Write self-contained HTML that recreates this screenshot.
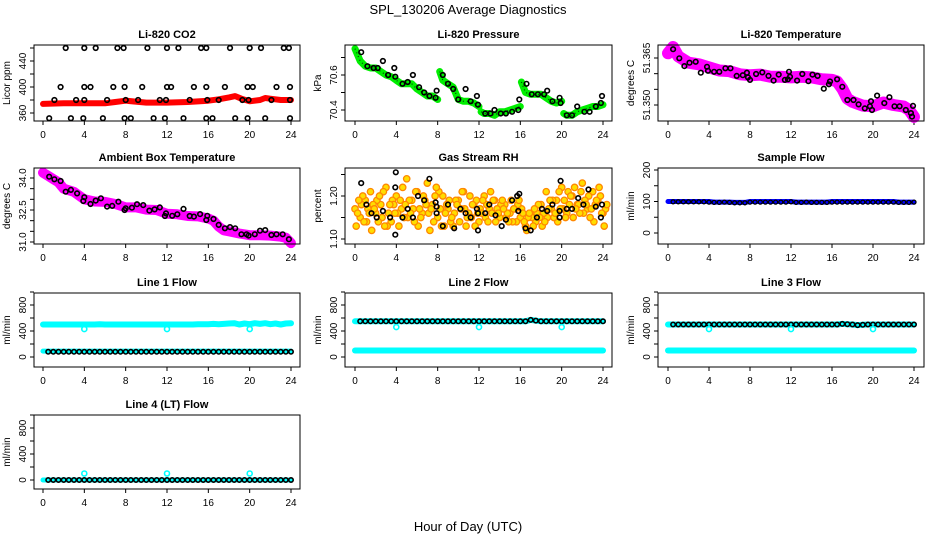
<!DOCTYPE html>
<html><head><meta charset="utf-8"><style>
html,body{margin:0;padding:0;background:#fff;}
svg{display:block;font-family:"Liberation Sans",Arial,sans-serif;}
</style></head><body>
<svg id="c" width="936" height="540" viewBox="0 0 936 540">
<rect width="936" height="540" fill="#fff"/>
<text x="468" y="14" text-anchor="middle" font-size="13">SPL_130206  Average Diagnostics</text>
<text x="468" y="531" text-anchor="middle" font-size="13">Hour of Day (UTC)</text>
</svg>
<script>
// ---------- data ----------
const xTicks=[0,4,8,12,16,20,24];
const H49=[0,0.5,1,1.5,2,2.5,3,3.5,4,4.5,5,5.5,6,6.5,7,7.5,8,8.5,9,9.5,10,10.5,11,11.5,12,12.5,13,13.5,14,14.5,15,15.5,16,16.5,17,17.5,18,18.5,19,19.5,20,20.5,21,21.5,22,22.5,23,23.5,24];

// CO2
const co2RedHours=[0,2,4,6,7,8,10,12,14,16,17,18,18.6,19.2,20,21,21.5,22,23,24];
const co2RedValues=[374,375,375,375,377,379,376,376,377,379,381,384,386,382,378,380,383,382,380,380];
const co2BlackHours=[2.2,4,5.1,7.2,7.8,10.1,12,13.1,15.3,15.8,18.1,20,21.1,23.3,23.8,1.7,4,4.6,6.8,7.9,9.6,12,12.4,14.6,15.8,17.6,19.8,20.3,22.6,23.9,1.1,3.2,4,6.2,8,9.2,11.3,11.9,14.2,15.9,17,19.3,19.9,22.1,23.9,0.6,2.7,3.9,5.8,7.9,8.5,10.7,11.8,13.6,15.8,16.4,18.6,19.8,21.5,23.9];
const co2BlackValues=[460,460,460,460,460,460,460,460,460,460,460,460,460,460,460,400,400,400,400,400,400,400,400,400,400,400,400,400,400,400,380,380,380,380,380,380,380,380,380,380,380,380,380,380,380,352,352,352,352,352,352,352,352,352,352,352,352,352,352,352];

// Pressure
const presHours=[0,0.5,1,1.5,2,2.5,3,3.5,4,4.5,5,5.5,6,6.5,7,7.5,8,null,8.2,8.5,9,9.5,10,10.5,11,11.5,12,null,12.2,12.5,13,13.5,14,14.5,15,15.5,16,null,16.1,16.5,17,17.5,18,18.5,19,19.5,20,null,20.2,20.5,21,21.5,22,22.5,23,23.5,24];
const presValues=[70.75,70.68,70.65,70.64,70.64,70.62,70.6,70.59,70.57,70.55,70.55,70.55,70.52,70.5,70.48,70.48,70.46,null,70.62,70.57,70.55,70.53,70.46,70.45,70.45,70.44,70.42,null,70.39,70.38,70.38,70.37,70.39,70.39,70.4,70.41,70.42,null,70.56,70.5,70.49,70.49,70.49,70.47,70.45,70.44,70.45,null,70.38,70.37,70.37,70.39,70.4,70.41,70.42,70.42,70.43];
const presBlackHours=[0.6,1.2,1.8,2.2,2.7,3.2,3.8,3.9,4.6,5.1,5.6,6.2,6.7,7.2,7.8,7.9,8.5,9,9.5,10,10.7,11.2,11.8,11.9,12.6,13.1,13.5,14.1,14.6,15.2,15.8,15.9,16.6,17.1,17.7,18.3,18.6,19.1,19.8,19.9,20.5,21,21.5,22.2,22.7,23.3,23.8,23.9];
const presBlackValues=[70.73,70.65,70.64,70.64,70.68,70.6,70.64,70.59,70.55,70.56,70.6,70.53,70.5,70.48,70.47,70.51,70.6,70.55,70.52,70.46,70.52,70.45,70.48,70.43,70.38,70.38,70.4,70.38,70.38,70.39,70.4,70.46,70.55,70.49,70.49,70.49,70.51,70.45,70.47,70.44,70.37,70.37,70.42,70.39,70.39,70.42,70.44,70.48];

// Li-820 temperature
const tempHours=[0,0.5,1,2,3,4,5,6,7,8,9,10,11,12,13,14,15,16,16.5,17,17.5,18,19,20,21,22,23,23.5,24];
const tempValues=[51.3665,51.3685,51.3655,51.3635,51.363,51.362,51.361,51.3608,51.3598,51.3595,51.3597,51.359,51.359,51.3588,51.359,51.3588,51.3582,51.358,51.3575,51.3552,51.352,51.351,51.3498,51.3496,51.3508,51.35,51.3495,51.3485,51.3462];
const tempBlackHours=[0.5,1.1,1.6,2.1,2.7,3.2,3.8,3.9,4.5,5,5.6,6.1,6.7,7.3,7.7,7.8,8,8.6,9.2,9.8,10.3,10.8,11.4,11.7,11.8,11.9,12.6,13.1,13.7,14.1,14.6,15.2,15.7,15.8,16.5,17,17.5,18.1,18.6,19.2,19.7,19.8,19.9,20.4,21.1,21.6,22.1,22.6,23.2,23.7,23.8,23.9];
const tempBlackValues=[51.3678,51.3649,51.3624,51.3635,51.3638,51.3603,51.3622,51.3609,51.3606,51.3606,51.3617,51.3617,51.3593,51.3595,51.3603,51.3588,51.358,51.3599,51.3604,51.3593,51.3578,51.3597,51.358,51.3582,51.3606,51.359,51.3578,51.3599,51.3576,51.3597,51.3593,51.3552,51.3566,51.3575,51.3582,51.3558,51.3516,51.3516,51.3502,51.3489,51.3496,51.3512,51.3484,51.353,51.3506,51.3525,51.3496,51.3496,51.3484,51.3474,51.3463,51.3497];

// Ambient
const ambHours=[0,0.5,1,1.5,2,3,4,5,6,7,8,9,10,11,12,13,14,15,16,16.5,17,17.5,18,19,20,21,22,23,23.5,24];
const ambValues=[34.25,34.1,33.95,33.8,33.5,33.35,33.0,32.9,32.88,32.78,32.62,32.62,32.52,32.5,32.32,32.3,32.22,32.2,32.1,32.0,31.72,31.55,31.5,31.4,31.32,31.32,31.3,31.25,31.2,30.95];
const ambBlackHours=[0.6,1.1,1.7,2.2,2.7,3.3,3.9,4,4.6,5.1,5.6,6.2,6.7,7.3,7.9,8,8.6,9.1,9.7,10.3,10.8,11.3,11.8,11.9,12.5,13,13.6,14.2,14.6,15.2,15.8,15.9,16.5,17,17.6,18.1,18.6,19.2,19.7,19.9,20.5,21,21.5,22.1,22.6,23.2,23.8];
const ambBlackValues=[34.06,33.94,33.86,33.36,33.44,33.28,32.92,33.1,32.78,32.94,33.05,32.66,32.69,32.89,32.5,32.58,32.61,32.77,32.73,32.47,32.53,32.62,32.22,32.34,32.23,32.3,32.55,32.22,32.19,32.31,32.03,32.23,32.08,31.8,31.64,31.7,31.64,31.36,31.36,31.3,31.36,31.53,31.56,31.33,31.36,31.36,31.13];

// Gas stream RH
const rhA=[1.17,1.15,1.19,1.21,1.16,1.18,1.22,1.14,1.20,1.17,1.24,1.19,1.21,1.16,1.23,1.18,1.15,1.20,1.17,1.13,1.19,1.21,1.16,1.18,1.14,1.20,1.17,1.19,1.15,1.18,1.16,1.17,1.15,1.13,1.16,1.14,1.18,1.21,1.17,1.19,1.22,1.16,1.20,1.18,1.23,1.17,1.21,1.19,1.16];
const rhB=[1.13,1.18,1.14,1.12,1.19,1.15,1.13,1.19,1.16,1.22,1.15,1.17,1.13,1.20,1.16,1.14,1.21,1.13,1.19,1.16,1.14,1.17,1.20,1.13,1.17,1.15,1.21,1.14,1.18,1.15,1.19,1.14,1.17,1.12,1.15,1.16,1.13,1.15,1.19,1.14,1.17,1.21,1.15,1.18,1.16,1.20,1.14,1.22,1.13];
const rhC=[1.16,1.20,1.17,1.18,1.14,1.21,1.16,1.18,1.13,1.15,1.19,1.14,1.17,1.19,1.12,1.20,1.17,1.16,1.14,1.19,1.17,1.13,1.15,1.19,1.16,1.18,1.16,1.17,1.19,1.16,1.14,1.18,1.16,1.15,1.13,1.18,1.16,1.17,1.15,1.21,1.19,1.18,1.22,1.16,1.19,1.15,1.18,1.20,1.17];
const rhD=[1.19,1.14,1.16,1.17,1.20,1.13,1.18,1.16,1.19,1.18,1.16,1.21,1.15,1.18,1.17,1.22,1.13,1.18,1.15,1.18,1.21,1.15,1.18,1.16,1.19,1.14,1.19,1.16,1.17,1.14,1.17,1.19,1.14,1.16,1.17,1.15,1.14,1.19,1.16,1.17,1.15,1.20,1.17,1.21,1.18,1.17,1.19,1.16,1.18];
const rhBlackHours=[0.6,1.1,1.6,2.1,2.7,3.4,3.9,3.9,3.95,4.6,5.1,5.6,6.1,6.7,7.2,7.8,7.9,7.9,8.5,9,9.6,10.2,10.7,11.2,11.8,11.9,11.9,12.6,13,13.6,14.2,14.6,15.2,15.7,15.8,15.9,16.5,17,17.6,18.1,18.6,19.1,19.8,19.8,19.9,20.5,21,21.6,22.1,22.6,23.3,23.8,23.9];
const rhBlackValues=[1.23,1.18,1.16,1.15,1.165,1.15,1.22,1.11,1.255,1.15,1.17,1.15,1.2,1.19,1.24,1.185,1.175,1.16,1.13,1.18,1.125,1.17,1.16,1.15,1.17,1.16,1.12,1.16,1.18,1.155,1.13,1.145,1.19,1.2,1.165,1.205,1.125,1.12,1.15,1.17,1.165,1.18,1.15,1.165,1.235,1.17,1.17,1.195,1.18,1.215,1.175,1.15,1.18];

// Sample flow
const sampleBlue=[100,100,100,100,100,100,100,100,100,98,98,98,98,97,97,97,100,100,100,100,100,100,100,100,100,98,98,98,98,98,98,98,100,100,100,100,100,100,100,100,100,100,100,100,100,98,98,98,98];
const sampleBlack=[99,99,99,99,99,99,99,99,98,97,97,98,97,96,96,96,98,98,98,98,98,98,98,98,99,97,97,98,97,97,97,97,98,98,98,98,98,98,98,98,98,98,98,98,98,97,97,97,98];

// Line flows
const l1CyanHi=[500,500,500,500,500,500,500,500,500,500,500,505,500,500,500,500,500,500,500,500,500,500,500,500,500,500,500,500,500,500,505,505,505,510,505,510,515,520,500,515,505,520,510,520,505,515,500,515,520];
const l1CyanLo=[90,90,90,90,90,90,90,90,90,90,90,90,90,90,90,90,90,90,90,90,90,90,90,90,90,90,90,90,90,90,90,90,90,90,90,90,90,90,90,90,90,90,90,90,90,90,90,90,90];
const l1Black=[80,80,80,80,80,80,80,80,80,80,80,80,80,80,80,80,80,80,80,80,80,80,80,80,80,80,80,80,80,80,80,80,80,80,80,80,80,80,80,80,80,80,80,80,80,80,80,80,80];
const dipHours=[4,12,20];
const l1Dips=[430,430,430];
const l2Black=[550,550,550,550,550,550,550,550,550,550,550,550,550,550,550,550,550,550,550,550,550,550,550,550,550,550,550,550,550,550,550,550,550,550,570,560,550,550,550,550,550,550,550,550,550,550,550,550,550];
const l2Cyan=[100,100,100,100,100,100,100,100,100,100,100,100,100,100,100,100,100,100,100,100,100,100,100,100,100,100,100,100,100,100,100,100,100,100,100,100,100,100,100,100,100,100,100,100,100,100,100,100,100];
const l2Dips=[460,460,460];
const l3Black=[500,500,500,500,500,500,500,500,500,500,500,500,500,500,500,500,500,500,500,500,500,500,500,500,500,500,500,500,500,500,500,500,500,500,510,505,500,490,495,500,500,500,500,500,500,500,500,500,500];
const l3Cyan=[100,100,100,100,100,100,100,100,100,100,100,100,100,100,100,100,100,100,100,100,100,100,100,100,100,100,100,100,100,100,100,100,100,100,100,100,100,100,100,100,100,100,100,100,100,100,100,100,100];
const l3Dips=[430,430,430];
const l4Black=[0,0,0,0,0,0,0,0,0,0,0,0,0,0,0,0,0,0,0,0,0,0,0,0,0,0,0,0,0,0,0,0,0,0,0,0,0,0,0,0,0,0,0,0,0,0,0,0,0];
const l4Spikes=[100,100,100];

// ---------- layout ----------
const NS='http://www.w3.org/2000/svg';
const svg=document.getElementById('c');
const cols=[{l:34,r:300,h0:43,h24:291},{l:345,r:612,h0:355,h24:603},{l:658,r:924,h0:668,h24:914}];
const rows=[{t:45,b:121},{t:168,b:244},{t:293,b:367},{t:415,b:489}];

function el(tag,attrs,parent){const e=document.createElementNS(NS,tag);for(const k in attrs)e.setAttribute(k,attrs[k]);(parent||svg).appendChild(e);return e;}

function panel(col,row,name,title,ylab,v1,p1,v2,p2,ticks,labels){
  const C=cols[col],R=rows[row];
  const g=el('g',{});
  
  
  const sx=h=>C.h0+h*(C.h24-C.h0)/24;
  const sy=v=>p1+(v-v1)*(p2-p1)/(v2-v1);
  const t=el('text',{x:(C.l+C.r)/2,y:R.t-7,'text-anchor':'middle','font-size':11,'font-weight':'bold'},g);
  t.textContent=title;
  
  
  const yl=el('text',{x:0,y:0,'text-anchor':'middle','font-size':10,transform:`translate(${C.l-24},${(R.t+R.b)/2}) rotate(-90)`},g);
  yl.textContent=ylab;
  
  
  const ya=el('g',{},g);
  
  
  ticks.forEach(v=>{const y=sy(v);el('line',{x1:C.l-4,x2:C.l,y1:y,y2:y,stroke:'#000','stroke-width':1},ya);});
  labels.forEach(v=>{const y=sy(parseFloat(v));const tx=el('text',{x:0,y:0,'text-anchor':'middle','font-size':10,transform:`translate(${C.l-8},${y}) rotate(-90)`},ya);tx.textContent=String(v);});
  const xa=el('g',{},g);
  
  
  xTicks.forEach(h=>{const x=sx(h);el('line',{x1:x,x2:x,y1:R.b,y2:R.b+4,stroke:'#000'},xa);const tx=el('text',{x:x,y:R.b+17,'text-anchor':'middle','font-size':10},xa);tx.textContent=h;});
  const plot=el('g',{},g);
  
  
  const box=el('rect',{x:C.l,y:R.t,width:C.r-C.l,height:R.b-R.t,fill:'none',stroke:'#000','stroke-width':1},g);
  
  
  return {sx,sy,plot,C,R};
}
function band(P,hours,vals,color,w,nm,dots){
  let d='',pen=false;
  for(let i=0;i<hours.length;i++){
    if(hours[i]===null||vals[i]===null){pen=false;continue;}
    d+=(pen?'L':'M')+P.sx(hours[i]).toFixed(1)+' '+P.sy(vals[i]).toFixed(1);pen=true;
  }
  const p=el('path',{d:d,fill:'none',stroke:color,'stroke-width':w,'stroke-linecap':'round','stroke-linejoin':'round'},P.plot);
  
  
  if(dots){const q=el('path',{d:d,fill:'none',stroke:dots,'stroke-width':1.2,'stroke-dasharray':'1 3'},P.plot);
    
    }
}
function pts(P,hours,vals,color,r,fill,sw,nm){
  const g=el('g',{},P.plot);
  
  
  for(let i=0;i<hours.length;i++){
    el('circle',{cx:P.sx(hours[i]).toFixed(1),cy:P.sy(vals[i]).toFixed(1),r:r,fill:fill,stroke:color,'stroke-width':sw},g);
  }
}

// CO2
let P=panel(0,0,'co2','Li-820 CO2','Licor ppm',360,113,440,61,[360,380,400,420,440,460],['360','400','440']);
band(P,co2RedHours,co2RedValues,'#ff0000',6,'co2-red-series');
pts(P,co2BlackHours,co2BlackValues,'#000',2.3,'none',1.6,'co2-black-series');

// Pressure
P=panel(1,0,'pressure','Li-820 Pressure','kPa',70.4,110,70.6,75,[70.4,70.5,70.6,70.7],['70.4','70.6']);
band(P,presHours,presValues,'#00ee00',7,'pressure-green-series','#004400');
pts(P,presBlackHours,presBlackValues,'#000',2.3,'none',1.6,'pressure-black-series');

// Temperature
P=panel(2,0,'li820-temp','Li-820 Temperature','degrees C',51.35,105,51.365,58,[51.35,51.355,51.36,51.365],['51.350','51.365']);
band(P,tempHours,tempValues,'#ff00ff',12,'li820-temp-magenta-series');
pts(P,tempBlackHours,tempBlackValues,'#000',2.3,'none',1.6,'li820-temp-black-series');

// Ambient
P=panel(0,1,'ambient','Ambient Box Temperature','degrees C',34,178,31,242,[31,31.5,32,32.5,33,33.5,34],['31.0','32.5','34.0']);
band(P,ambHours,ambValues,'#ff00ff',10,'ambient-magenta-series');
pts(P,ambBlackHours,ambBlackValues,'#000',2.3,'none',1.6,'ambient-black-series');

// RH
P=panel(1,1,'rh','Gas Stream RH','percent',1.2,196,1.1,239,[1.1,1.15,1.2,1.25],['1.10','1.20']);
pts(P,H49,rhA,'#ff8800',3.2,'#ffdd00',1.3,'rh-series-a');
pts(P,H49.map(h=>h+0.12),rhB,'#ff8800',3.2,'#ffdd00',1.3,'rh-series-b');
pts(P,H49.map(h=>h+0.25),rhC,'#ff8800',3.2,'#ffdd00',1.3,'rh-series-c');
pts(P,H49.map(h=>h+0.37),rhD,'#ff8800',3.2,'#ffdd00',1.3,'rh-series-d');
pts(P,rhBlackHours,rhBlackValues,'#000',2.3,'none',1.6,'rh-black-series');

// Sample flow
P=panel(2,1,'sample-flow','Sample Flow','ml/min',200,170,0,233,[0,50,100,150,200],['0','100','200']);
band(P,H49,sampleBlue,'#0000ff',5,'sample-flow-blue-series');
pts(P,H49.slice(1),sampleBlack.slice(1),'#000',2,'none',1.3,'sample-flow-black-series');

const fT=[0,200,400,600,800,1000],fL=['0','400','800'];
// Line 1
P=panel(0,2,'line1','Line 1 Flow','ml/min',0,357,800,305,fT,fL);
band(P,H49,l1CyanHi,'#00ffff',6,'line1-cyan-upper-series');
pts(P,dipHours,l1Dips,'#00ffff',2.5,'none',1.6,'line1-cyan-dips');
band(P,H49,l1CyanLo,'#00ffff',5,'line1-cyan-lower-series');
pts(P,H49.slice(1),l1Black.slice(1),'#000',2.2,'none',1.6,'line1-black-series');
// Line 2
P=panel(1,2,'line2','Line 2 Flow','ml/min',0,357,800,305,fT,fL);
band(P,H49,l2Black,'#00ffff',6,'line2-cyan-under-series');
pts(P,H49.slice(1),l2Black.slice(1),'#000',2.2,'none',1.6,'line2-black-series');
pts(P,dipHours,l2Dips,'#00ffff',2.5,'none',1.6,'line2-cyan-dips');
band(P,H49,l2Cyan,'#00ffff',6,'line2-cyan-series');
// Line 3
P=panel(2,2,'line3','Line 3 Flow','ml/min',0,357,800,305,fT,fL);
band(P,H49,l3Black,'#00ffff',6,'line3-cyan-under-series');
pts(P,H49.slice(1),l3Black.slice(1),'#000',2.2,'none',1.6,'line3-black-series');
pts(P,dipHours,l3Dips,'#00ffff',2.5,'none',1.6,'line3-cyan-dips');
band(P,H49,l3Cyan,'#00ffff',6,'line3-cyan-series');
// Line 4
P=panel(0,3,'line4','Line 4 (LT) Flow','ml/min',0,480,800,428,fT,fL);
band(P,H49,l4Black,'#00ffff',5,'line4-cyan-under-series');
pts(P,H49.slice(1),l4Black.slice(1),'#000',2.2,'none',1.6,'line4-black-series');
pts(P,dipHours,l4Spikes,'#00ffff',2.5,'none',1.6,'line4-cyan-spikes');
</script>
</body></html>
